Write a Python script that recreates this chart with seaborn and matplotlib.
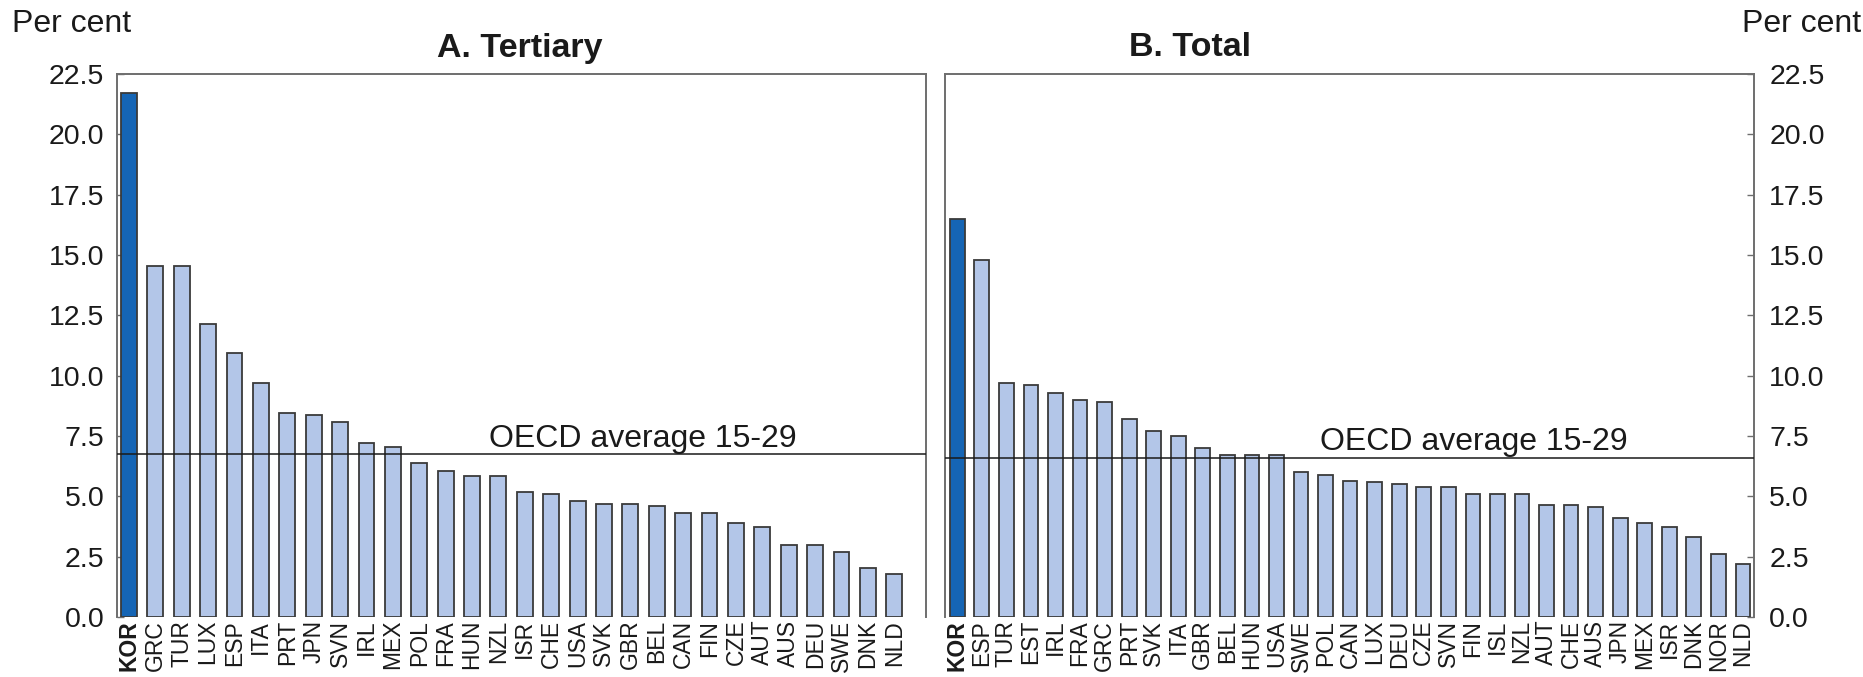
import matplotlib
matplotlib.use("Agg")
import matplotlib.pyplot as plt
import matplotlib.transforms as mtransforms
from matplotlib import font_manager
import seaborn as sns
import pandas as pd
import numpy as np

# ---------------- data ----------------
tertiary_countries = ["KOR", "GRC", "TUR", "LUX", "ESP", "ITA", "PRT", "JPN", "SVN", "IRL",
                      "MEX", "POL", "FRA", "HUN", "NZL", "ISR", "CHE", "USA", "SVK", "GBR",
                      "BEL", "CAN", "FIN", "CZE", "AUT", "AUS", "DEU", "SWE", "DNK", "NLD"]
tertiary_values = [21.7, 14.55, 14.55, 12.15, 10.95, 9.7, 8.45, 8.35, 8.1, 7.2,
                   7.05, 6.4, 6.05, 5.85, 5.85, 5.2, 5.1, 4.8, 4.7, 4.7,
                   4.6, 4.3, 4.3, 3.9, 3.72, 3.0, 3.0, 2.7, 2.05, 1.8]
tertiary_avg = 6.75

total_countries = ["KOR", "ESP", "TUR", "EST", "IRL", "FRA", "GRC", "PRT", "SVK", "ITA",
                   "GBR", "BEL", "HUN", "USA", "SWE", "POL", "CAN", "LUX", "DEU", "CZE",
                   "SVN", "FIN", "ISL", "NZL", "AUT", "CHE", "AUS", "JPN", "MEX", "ISR",
                   "DNK", "NOR", "NLD"]
total_values = [16.5, 14.8, 9.7, 9.6, 9.3, 9.0, 8.9, 8.2, 7.7, 7.5,
                7.0, 6.7, 6.7, 6.7, 6.0, 5.9, 5.65, 5.6, 5.5, 5.4,
                5.4, 5.1, 5.1, 5.1, 4.65, 4.65, 4.55, 4.1, 3.9, 3.75,
                3.3, 2.6, 2.2]
total_avg = 6.6

y_ticks = [0.0, 2.5, 5.0, 7.5, 10.0, 12.5, 15.0, 17.5, 20.0, 22.5]
panel_titles = ["A. Tertiary", "B. Total"]
avg_label = "OECD average 15-29"
unit_label = "Per cent"

# ---------------- style ----------------
DARK = "#1565b5"
LIGHT = "#b3c6e8"
EDGE = "#3a3a3a"
SPINE = "#6e6e6e"

sns.set_theme(style="white")
plt.rcParams["font.family"] = ["Liberation Sans", "DejaVu Sans"]
names = {f.name for f in font_manager.fontManager.ttflist}
narrow = "Liberation Sans Narrow" if "Liberation Sans Narrow" in names else "Liberation Sans"

W, H = 1863, 677
fig = plt.figure(figsize=(W / 100, H / 100), dpi=100)
fig.patch.set_facecolor("white")


def px_axes(x0, x1, y0, y1):
    return fig.add_axes([x0 / W, 1 - y1 / H, (x1 - x0) / W, (y1 - y0) / H])


axA = px_axes(117, 926, 74, 617)
axB = px_axes(945, 1754, 74, 617)


def panel(ax, cats, vals, avg, xlim, text_x, side):
    df = pd.DataFrame({"country": cats, "value": vals})
    pal = {c: (DARK if c == "KOR" else LIGHT) for c in cats}
    sns.barplot(data=df, x="country", y="value", hue="country", order=cats,
                palette=pal, legend=False, width=0.6, saturation=1,
                edgecolor=EDGE, linewidth=1.3, ax=ax, zorder=2)
    ax.axhline(avg, color="#1a1a1a", lw=1.1, zorder=5)
    trans = mtransforms.blended_transform_factory(ax.transAxes, ax.transData)
    ax.text(text_x, avg + 0.3, avg_label, transform=trans, ha="left",
            va="baseline", fontsize=23, color="#1a1a1a", zorder=6)
    ax.set_xlim(*xlim)
    ax.set_ylim(0, 22.5)
    ax.set_yticks(y_ticks)
    ax.set_yticklabels([f"{t:.1f}" for t in y_ticks])
    ax.set_xlabel("")
    ax.set_ylabel("")
    for s in ["top", "left", "right"]:
        ax.spines[s].set_visible(True)
        ax.spines[s].set_color(SPINE)
        ax.spines[s].set_linewidth(1.4)
    ax.spines["bottom"].set_visible(False)
    ax.tick_params(axis="x", length=0, pad=2)
    for lbl in ax.get_xticklabels():
        lbl.set_rotation(90)
        lbl.set_fontsize(16.5)
        lbl.set_family([narrow, "DejaVu Sans"])
        lbl.set_color("#1a1a1a")
        if lbl.get_text() == "KOR":
            lbl.set_fontweight("bold")
    if side == "left":
        ax.tick_params(axis="y", which="both", direction="in", length=5, width=1,
                       color=SPINE, left=True, right=False, labelleft=True,
                       labelright=False, labelsize=20.5, pad=9, labelcolor="#1a1a1a")
    else:
        ax.yaxis.tick_right()
        ax.tick_params(axis="y", which="both", direction="in", length=5, width=1,
                       color=SPINE, left=False, right=True, labelleft=False,
                       labelright=True, labelsize=20.5, pad=11, labelcolor="#1a1a1a")
    ax.grid(False)


panel(axA, tertiary_countries, tertiary_values, tertiary_avg, (-0.45, 30.2), 0.46, "left")
panel(axB, total_countries, total_values, total_avg, (-0.5, 32.45), 0.463, "right")

fig.text(520 / W, 1 - 48 / H, panel_titles[0], ha="center", va="center",
         fontsize=24.5, fontweight="bold", color="#1a1a1a")
fig.text(1190 / W, 1 - 48 / H, panel_titles[1], ha="center", va="center",
         fontsize=24.5, fontweight="bold", color="#1a1a1a")
fig.text(12 / W, 1 - 24 / H, unit_label, ha="left", va="center", fontsize=23, color="#1a1a1a")
fig.text(1861 / W, 1 - 24 / H, unit_label, ha="right", va="center", fontsize=23, color="#1a1a1a")

fig.savefig("out.png", dpi=100, facecolor="white")
